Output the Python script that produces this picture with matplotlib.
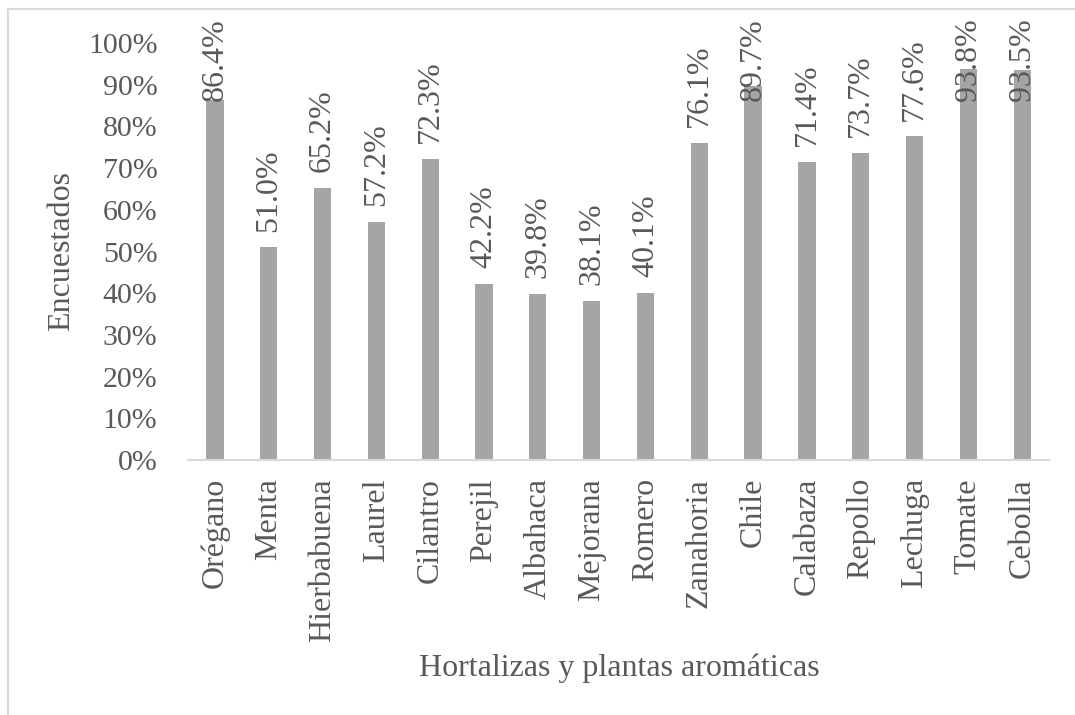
import matplotlib.pyplot as plt
from matplotlib.patches import Rectangle
from matplotlib.ticker import FuncFormatter

# Datos
categorias = ["Orégano", "Menta", "Hierbabuena", "Laurel", "Cilantro", "Perejil",
              "Albahaca", "Mejorana", "Romero", "Zanahoria", "Chile", "Calabaza",
              "Repollo", "Lechuga", "Tomate", "Cebolla"]
porcentajes = [86.4, 51.0, 65.2, 57.2, 72.3, 42.2, 39.8, 38.1, 40.1, 76.1,
               89.7, 71.4, 73.7, 77.6, 93.8, 93.5]
ticks_y = [0, 10, 20, 30, 40, 50, 60, 70, 80, 90, 100]

texto = "#595959"
gris_barra = "#a5a5a5"
gris_linea = "#d9d9d9"

plt.rcParams['font.family'] = ['Liberation Serif', 'DejaVu Serif']

fig = plt.figure(figsize=(10.75, 7.15), dpi=100)
ax = fig.add_axes([0.1749, 0.3566, 0.801, 0.5832])

x = list(range(len(categorias)))
ax.bar(x, porcentajes, width=0.32, color=gris_barra, zorder=2)

# Etiquetas de valor (limitadas para que quepan en el area del grafico)
for xi, v in zip(x, porcentajes):
    y = min(v + 3.8, 86.0)
    ax.text(xi, y, f"{v:.1f}%", rotation=90, ha='center', va='bottom',
            fontsize=23, color=texto, clip_on=False, zorder=3)

ax.set_xlim(-0.5, len(categorias) - 0.5)
ax.set_ylim(0, 100)
ax.set_yticks(ticks_y)
ax.yaxis.set_major_formatter(FuncFormatter(lambda v, p: f"{v:.0f}%"))
ax.set_xticks(x)
ax.set_xticklabels(categorias, rotation=90, va='top', ha='center')

ax.tick_params(axis='y', length=0, pad=22, labelsize=21.5, labelcolor=texto)
ax.tick_params(axis='x', length=0, pad=13, labelsize=23, labelcolor=texto)

for lado in ['top', 'right', 'left']:
    ax.spines[lado].set_visible(False)
ax.spines['bottom'].set_color(gris_linea)
ax.spines['bottom'].set_linewidth(1.5)

fig.text(0.0577, 0.649, "Encuestados", rotation=90, ha='center', va='center',
         fontsize=23, color=texto)
fig.text(0.576, 0.0657, "Hortalizas y plantas aromáticas", ha='center',
         va='center', fontsize=23, color=texto)

# Marco del area del grafico
fig.patches.append(Rectangle((8 / 1075, -0.1), 1.2, 1 - 9 / 715 + 0.1,
                             transform=fig.transFigure, fill=False,
                             edgecolor=gris_linea, linewidth=1.5))

fig.savefig("out.png", dpi=100)
